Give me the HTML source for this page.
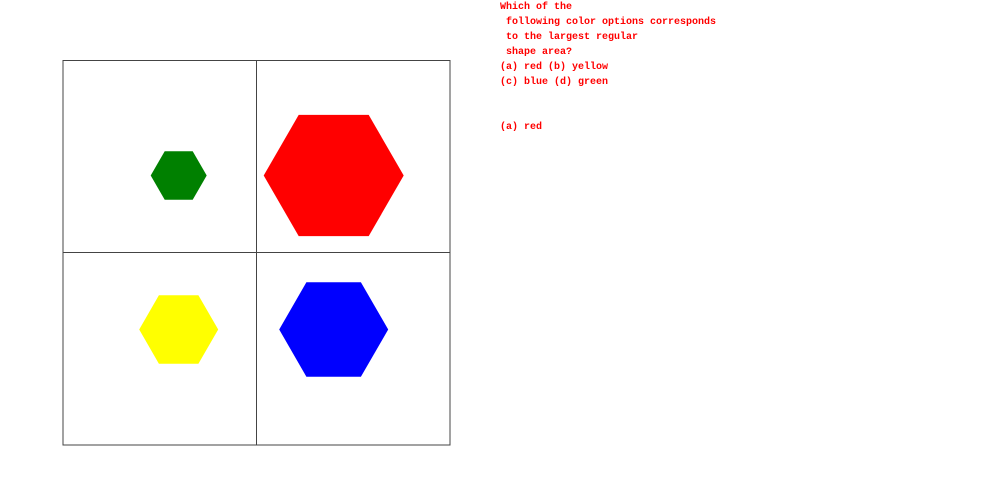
<!DOCTYPE html>
<html><head><meta charset="utf-8"><style>
body{margin:0;background:#fff;width:1000px;height:500px;overflow:hidden;position:relative}
.t{position:absolute;left:500px;font:bold 10px "Liberation Mono",monospace;color:#f00;white-space:pre;line-height:15px}
</style></head><body>
<svg id="chart" width="1000" height="500" style="position:absolute;left:0;top:0">
<rect x="63" y="60.5" width="387" height="384.5" fill="none" stroke="#444" stroke-width="1"/>
<line x1="256.5" y1="60" x2="256.5" y2="445" stroke="#444"/>
<line x1="63" y1="252.5" x2="450" y2="252.5" stroke="#444"/>
</svg>
<div class="t" style="top:0px">Which of the
 following color options corresponds
 to the largest regular
 shape area?
(a) red (b) yellow
(c) blue (d) green</div>
<div class="t" style="top:120px">(a) red</div>
<script>
const colors=["green","red","yellow","blue"];
const radii=[28,70,39.5,54.5];
const centersX=[178.7,333.7,178.7,333.7];
const centersY=[175.5,175.5,329.5,329.5];
const svg=document.getElementById('chart');
colors.forEach((c,i)=>{
  const r=radii[i],cx=centersX[i],cy=centersY[i];
  const pts=[];
  for(let k=0;k<6;k++){const a=Math.PI/3*k;pts.push((cx+r*Math.cos(a)).toFixed(1)+','+(cy+r*Math.sin(a)).toFixed(1));}
  const p=document.createElementNS('http://www.w3.org/2000/svg','polygon');
  p.setAttribute('points',pts.join(' '));
  p.setAttribute('fill',c);
  
  
  svg.appendChild(p);
});
</script>
</body></html>
